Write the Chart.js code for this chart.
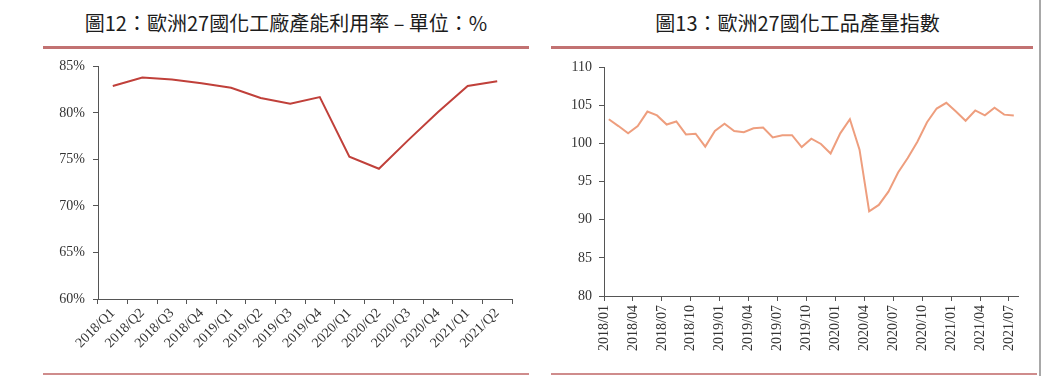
<!DOCTYPE html>
<html>
<head>
<meta charset="utf-8">
<script src="https://cdn.jsdelivr.net/npm/chart.js@4"></script>
<style>
    body { margin: 0; background: #fff; width: 1046px; height: 376px; position: relative; overflow: hidden; }
    .title { position: absolute; top: 8px; font-family: 'Noto Sans CJK TC', 'Noto Sans', sans-serif; font-size: 20px; color: #1c1c1c; text-align: center; white-space: nowrap; }
    .rule { position: absolute; background: #c27272; }
    .box { position: absolute; width: 480px; }
</style>
</head>
<body>
<div class="title" style="left:43px; width:486px;">圖12：歐洲27國化工廠產能利用率 – 單位：%</div>
<div class="title" style="left:557px; width:481px;">圖13：歐洲27國化工品產量指數</div>
<div class="rule" style="left:43px; width:486px; top:46px; height:3px;"></div>
<div class="rule" style="left:551px; width:482px; top:46px; height:3px;"></div>
<div class="rule" style="left:43px; width:486px; top:373px; height:2px; background:#cf8c8c;"></div>
<div class="rule" style="left:551px; width:486px; top:373px; height:2px; background:#cf8c8c;"></div>
<div class="rule" style="left:1039px; width:2px; top:0; height:376px; background:#a8a8a8;"></div>
<div class="box" style="left:40px; top:50px; height:315px;"><canvas id="chartUtilization"></canvas></div>
<div class="box" style="left:550px; top:52px; height:313px;"><canvas id="chartProduction"></canvas></div>
<script>
// left chart: quarterly capacity utilisation (%)
const quarterLabels = ['2018/Q1', '2018/Q2', '2018/Q3', '2018/Q4', '2019/Q1', '2019/Q2', '2019/Q3',
    '2019/Q4', '2020/Q1', '2020/Q2', '2020/Q3', '2020/Q4', '2021/Q1', '2021/Q2'];
const utilizationValues = [82.9, 83.8, 83.6, 83.2, 82.7, 81.6, 81.0, 81.7, 75.3, 74.0, 77.1, 80.1, 82.9, 83.4];

// right chart: monthly production index
const monthLabels = ['2018/01', '2018/02', '2018/03', '2018/04', '2018/05', '2018/06', '2018/07', '2018/08',
    '2018/09', '2018/10', '2018/11', '2018/12', '2019/01', '2019/02', '2019/03', '2019/04', '2019/05',
    '2019/06', '2019/07', '2019/08', '2019/09', '2019/10', '2019/11', '2019/12', '2020/01', '2020/02',
    '2020/03', '2020/04', '2020/05', '2020/06', '2020/07', '2020/08', '2020/09', '2020/10', '2020/11',
    '2020/12', '2021/01', '2021/02', '2021/03', '2021/04', '2021/05', '2021/06', '2021/07'];
const productionValues = [103.2, 102.3, 101.35, 102.3, 104.2, 103.7, 102.5, 102.9, 101.2, 101.3, 99.6,
    101.65, 102.6, 101.65, 101.5, 102.0, 102.1, 100.8, 101.1, 101.1, 99.55, 100.65, 99.95, 98.7, 101.35,
    103.2, 99.2, 91.1, 91.95, 93.7, 96.2, 98.1, 100.25, 102.8, 104.6, 105.35, 104.2, 103.0, 104.35, 103.7,
    104.7, 103.8, 103.7];
const monthTickEvery = 3;

const tickFont = { family: "'Liberation Serif', 'Times New Roman', serif", size: 14 };
const axisColor = '#555';

function axisGrid() {
    return { display: true, drawOnChartArea: false, drawTicks: true, tickLength: 5, color: axisColor };
}

Chart.defaults.animation = false;
Chart.defaults.font = tickFont;
Chart.defaults.color = '#333';

new Chart(document.getElementById('chartUtilization').getContext('2d'), {
    type: 'line',
    data: {
        labels: quarterLabels,
        datasets: [{
            data: utilizationValues,
            borderColor: '#c0403a',
            borderWidth: 2,
            pointRadius: 0,
            tension: 0,
            fill: false
        }]
    },
    options: {
        responsive: true,
        maintainAspectRatio: false,
        layout: { padding: { top: 0, right: 8, bottom: 0, left: 0 } },
        plugins: { legend: { display: false }, tooltip: { enabled: false } },
        scales: {
            x: {
                offset: true,
                grid: Object.assign(axisGrid(), { offset: true }),
                border: { display: true, color: axisColor, width: 1 },
                ticks: { minRotation: 45, maxRotation: 45, autoSkip: false, padding: 1, font: tickFont },
                afterFit: (scale) => { scale.height = 66; }
            },
            y: {
                min: 60,
                max: 85,
                grid: axisGrid(),
                border: { display: true, color: axisColor, width: 1 },
                ticks: { stepSize: 5, padding: 8, font: tickFont, callback: (v) => v + '%' },
                afterFit: (scale) => { scale.width = 58; }
            }
        }
    }
});

let monthTicks = [];
for (let i = 0; i < monthLabels.length; i += monthTickEvery) {
    monthTicks.push(i - 0.5);
}

new Chart(document.getElementById('chartProduction').getContext('2d'), {
    type: 'line',
    data: {
        datasets: [{
            data: productionValues.map((v, i) => ({ x: i, y: v })),
            borderColor: '#ee9e7e',
            borderWidth: 2,
            pointRadius: 0,
            tension: 0,
            fill: false
        }]
    },
    options: {
        responsive: true,
        maintainAspectRatio: false,
        layout: { padding: { top: 0, right: 9, bottom: 0, left: 0 } },
        plugins: { legend: { display: false }, tooltip: { enabled: false } },
        scales: {
            x: {
                type: 'linear',
                min: -0.5,
                max: monthLabels.length - 0.5,
                grid: axisGrid(),
                border: { display: true, color: axisColor, width: 1 },
                afterBuildTicks: (scale) => { scale.ticks = monthTicks.map(v => ({ value: v })); },
                ticks: {
                    minRotation: 90, maxRotation: 90, autoSkip: false, padding: 4, font: tickFont,
                    callback: (v, idx) => monthLabels[idx * monthTickEvery]
                },
                afterFit: (scale) => { scale.height = 69; }
            },
            y: {
                min: 80,
                max: 110,
                grid: axisGrid(),
                border: { display: true, color: axisColor, width: 1 },
                ticks: { stepSize: 5, padding: 7, font: tickFont },
                afterFit: (scale) => { scale.width = 54; }
            }
        }
    }
});
</script>
</body>
</html>
